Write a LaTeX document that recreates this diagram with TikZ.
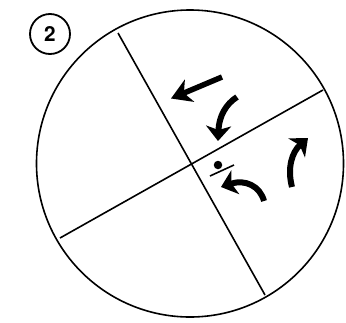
\documentclass[tikz,border=0pt]{standalone}
\usepackage{fontspec}
\setsansfont{TeX Gyre Heros}
\usetikzlibrary{arrows.meta}
\begin{document}
\begin{tikzpicture}[x=1pt,y=-1pt,
  thinline/.style={line width=1.6pt},
  bigarrow/.style={line width=5.5pt,-{Stealth[length=20pt,width=24pt,inset=6pt]}},
  curvearrow/.style={line width=6pt,-{Stealth[length=15pt,width=25pt,inset=4pt]}}]
\useasboundingbox (0,0) rectangle (346,322);
\node[draw,circle,line width=1.8pt,minimum size=40pt,inner sep=0pt,font=\sffamily\bfseries\huge] (num) at (50,34) {2};
\coordinate (c) at (190,163.5);
\draw[thinline] (c) circle (153.5);
\coordinate (a1) at (118,33);
\coordinate (a2) at (265,295);
\coordinate (b1) at (60,238);
\coordinate (b2) at (323,90);
\draw[thinline] (a1) -- (a2);
\draw[thinline] (b1) -- (b2);
% straight arrow
\coordinate (s1) at (222,77);
\coordinate (s2) at (171,98.5);
\draw[bigarrow] (s1) -- (s2);
% top curved arrow
\coordinate (t1) at (237,97);
\coordinate (t2) at (218,141);
\draw[curvearrow] (t1) .. controls (226,104) and (219,116) .. (t2);
% lower curved arrow
\coordinate (l1) at (264,201);
\coordinate (l2) at (221,187);
\draw[curvearrow] (l1) .. controls (260,186) and (245,179) .. (l2);
% right curved arrow
\coordinate (r1) at (292,187);
\coordinate (r2) at (308,138);
\draw[curvearrow] (r1) .. controls (287,168) and (292,152) .. (r2);
% dot and short bar
\node[fill,circle,minimum size=8.5pt,inner sep=0pt] (dot) at (218,165) {};
\coordinate (m1) at (210,176);
\coordinate (m2) at (234,165);
\draw[line width=1.6pt] (m1) -- (m2);
\end{tikzpicture}
\end{document}
